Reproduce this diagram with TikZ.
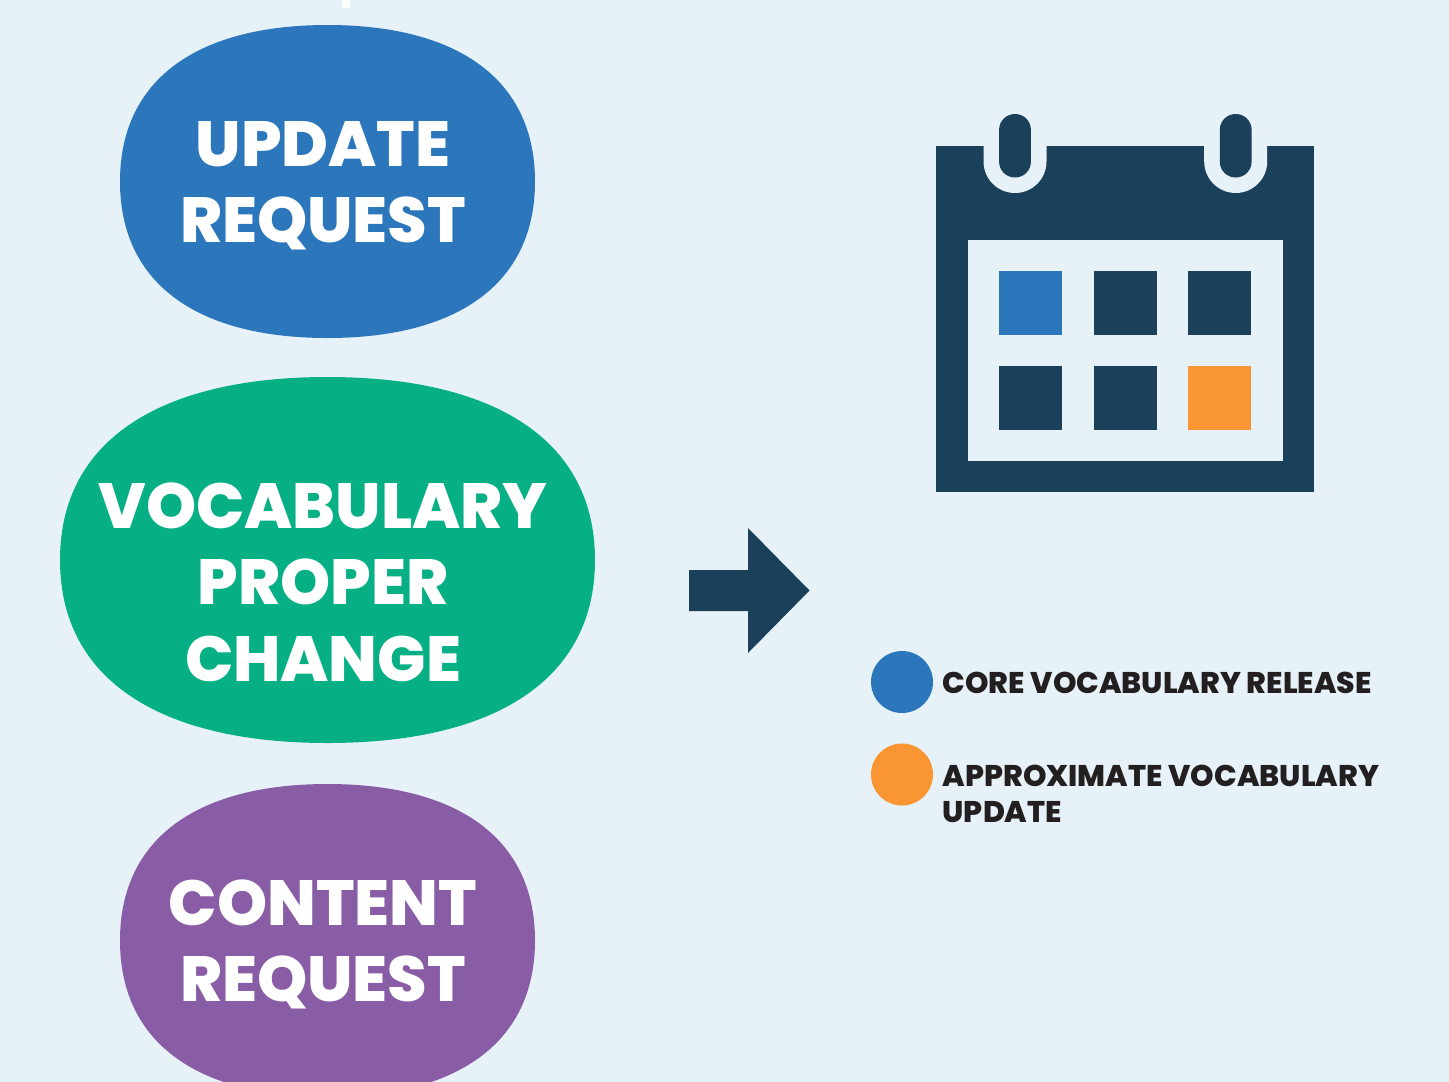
\documentclass[tikz,border=0pt]{standalone}
\usepackage{fontspec}
\setmainfont{Poppins}[BoldFont={Poppins ExtraBold}]
\usetikzlibrary{positioning}
\definecolor{pagebg}{HTML}{E6F1F8}
\definecolor{navy}{HTML}{1A405A}
\definecolor{coreblue}{HTML}{2C77BC}
\definecolor{propgreen}{HTML}{06B084}
\definecolor{contpurple}{HTML}{895DA6}
\definecolor{approxorange}{HTML}{F99532}
\definecolor{legendink}{HTML}{231F20}
\def \blob #1#2#3#4#5{\fill [#1,shift={(#2,#3)},xscale=#4,yscale=#5]
(-1,0) .. controls (-1,-.66) and (-.62,-1) .. (0,-1)
.. controls (.62,-1) and (1,-.66) .. (1,0)
.. controls (1,.66) and (.62,1) .. (0,1)
.. controls (-.62,1) and (-1,.66) .. (-1,0) -- cycle;}
\def \ring #1{\fill [pagebg] (#1-31.5,140) -- (#1+31.5,140) -- (#1+31.5,161.5) arc (0:180:31.5) -- cycle;
\fill [navy,rounded corners=15.8pt] (#1-15.9,114) rectangle (#1+15.9,177.5);}

\begin{document}
\begin{tikzpicture}[x=1pt,y=-1pt]
\tikzset{blobtext/.style={text=white,align=center,font=\fontsize{63.8}{76.5}\selectfont\bfseries}}
\tikzset{legendtext/.style={text=legendink,align=left,anchor=west,inner sep=0pt,font=\fontsize{29.9}{36}\selectfont\bfseries}}
\tikzset{legenddot/.style={circle,minimum size=62pt,inner sep=0pt}}
\useasboundingbox (0,0) rectangle (1449,1082);
\clip (0,0) rectangle (1449,1082);
\fill [pagebg] (0,0) rectangle (1449,1082);
\fill [white] (342,0) rectangle (350,8);
% request blobs
\blob{coreblue}{327.5}{181.5}{207.5}{156.5}
\blob{propgreen}{327.5}{560}{267.5}{183}
\blob{contpurple}{327.5}{940.5}{207.5}{156.5}
\node [blobtext] (update) at (323,186) {UPDATE\\REQUEST};
\node [blobtext] (proper) at (323,582) {VOCABULARY\\PROPER\\CHANGE};
\node [blobtext] (content) at (323,944.5) {CONTENT\\REQUEST};
% arrow
\fill [navy] (689,570) -- (748,570) -- (748,528) -- (809.5,590.5) -- (748,653) -- (748,611) -- (689,611) -- cycle;
% calendar
\fill [navy] (936.3,145.7) rectangle (1314.3,492.3);
\fill [pagebg] (968,240) rectangle (1283,460.5);
\ring{1015}
\ring{1235.7}
\foreach \x/\y/\c in {999/271/coreblue,1094/271/navy,1188/271/navy,999/366/navy,1094/366/navy,1188/366/approxorange}
\fill [\c] (\x,\y) rectangle +(63,64);
% legend
\node [legenddot,fill=coreblue] (coredot) at (902,682) {};
\node [legenddot,fill=approxorange] (approxdot) at (902,774.5) {};
\node [legendtext] (coretext) at (942.5,682.5) {CORE VOCABULARY RELEASE};
\node [legendtext,anchor=north west] (approxtext) at (942.5,765) {APPROXIMATE VOCABULARY\\UPDATE};
\end{tikzpicture}
\end{document}
